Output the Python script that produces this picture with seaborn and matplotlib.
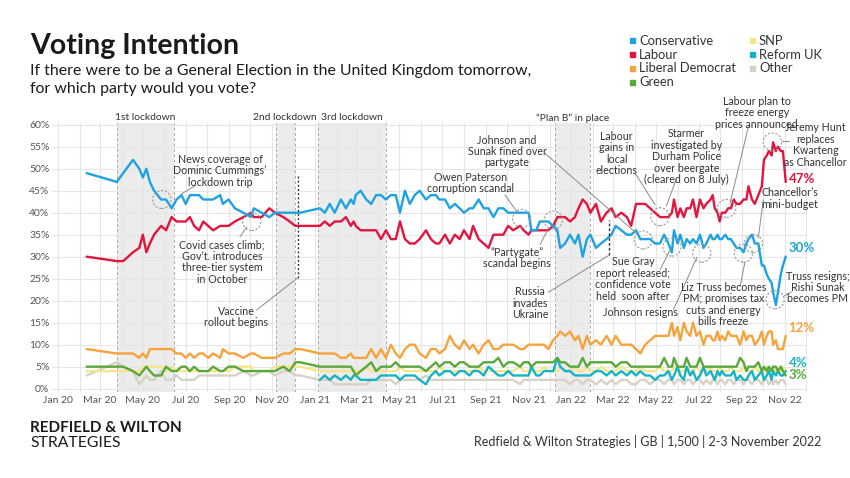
import numpy as np
import pandas as pd
import matplotlib
matplotlib.use("Agg")
import matplotlib.pyplot as plt
import matplotlib.dates as mdates
from matplotlib.patches import Ellipse, Rectangle
import seaborn as sns

# ---------------- data ----------------
BASE = pd.Timestamp("2020-01-01")
# poll fieldwork day, counted from 1 Jan 2020
poll_day = [41, 84, 93, 107, 116, 121, 126, 131, 137, 142, 147, 154, 162, 169, 176, 182, 188, 194,
            201, 207, 214, 221, 231, 235, 243, 252, 264, 275, 279, 290, 301, 309, 321, 330, 338, 345,
            373, 380, 387, 394, 403, 410, 417, 421, 424, 431, 439, 446, 453, 460, 467, 474, 481, 487,
            494, 501, 508, 515, 524, 531, 538, 543, 551, 558, 565, 572, 578, 586, 591, 599, 606, 613,
            620, 627, 634, 641, 648, 658, 663, 670, 674, 681, 686, 692, 698, 705, 711,
            715, 722, 729, 736, 741, 747, 753, 758, 766, 773, 781, 788, 794, 802, 810, 816, 823, 829,
            836, 843, 850, 857, 863, 869, 874, 877, 882, 886, 891, 895, 900, 904, 909, 914, 919, 923,
            929, 932, 935, 939, 942, 945, 950, 954, 958, 962, 966, 971, 976, 980, 983, 988, 992, 997,
            1002, 1005, 1009, 1012, 1016, 1018, 1022, 1025, 1029, 1032, 1036]

conservative = [49, 47, 49, 52, 50, 48, 50, 47, 45, 44, 43, 43, 41, 43, 44, 42, 44, 44,
                44, 43, 43, 43, 44, 42, 43, 41, 40, 39, 41, 40, 39, 40, 40, 40, 40, 40,
                41, 40, 42, 40, 43, 41, 43, 42, 44, 45, 43, 42, 44, 44, 43, 44, 44, 40,
                45, 42, 44, 45, 43, 44, 44, 43, 43, 41, 42, 41, 40, 41, 41, 43, 41, 41,
                39, 41, 41, 40, 40, 40, 40, 40, 36, 36, 38, 38, 38, 37, 36,
                32, 33, 35, 33, 35, 30, 34, 35, 32, 33, 34, 35, 37, 36, 35, 35, 36, 34,
                34, 34, 33, 33, 35, 33, 31, 36, 33, 35, 32, 34, 33, 34, 33, 35, 32, 33,
                35, 34, 34, 35, 34, 34, 35, 34, 34, 33, 32, 32, 31, 33, 34, 35, 33, 33,
                28, 28, 26, 25, 24, 22, 19, 22, 26, 28, 30]

labour = [30, 29, 29, 31, 32, 35, 31, 33, 35, 36, 37, 36, 39, 38, 38, 38, 39, 37,
          36, 38, 37, 36, 37, 37, 37, 38, 39, 40, 39, 39, 41, 40, 39, 38, 37, 37,
          37, 38, 37, 38, 38, 39, 37, 38, 37, 36, 36, 36, 36, 34, 36, 34, 34, 38,
          34, 33, 33, 34, 36, 34, 33, 33, 35, 33, 35, 34, 36, 34, 37, 34, 33, 32,
          35, 35, 35, 37, 36, 37, 36, 35, 36, 36, 36, 36, 36, 37, 39,
          39, 39, 38, 39, 41, 43, 42, 40, 42, 38, 40, 41, 39, 40, 39, 37, 42, 42,
          42, 41, 40, 39, 39, 39, 40, 43, 39, 41, 39, 41, 41, 43, 39, 43, 41, 42,
          43, 44, 41, 40, 38, 40, 40, 41, 41, 43, 42, 42, 43, 43, 46, 43, 42, 44,
          46, 52, 53, 54, 53, 56, 54, 55, 54, 54, 47]

lib_dem = [9, 8, 8, 8, 7, 8, 7, 9, 9, 9, 9, 9, 9, 8, 8, 7, 8, 7,
           8, 8, 7, 8, 7, 9, 8, 8, 7, 8, 8, 7, 7, 7, 8, 8, 9, 9,
           8, 8, 8, 8, 7, 7, 8, 7, 7, 7, 7, 9, 7, 9, 7, 10, 8, 7,
           9, 10, 10, 8, 7, 9, 9, 8, 9, 12, 10, 9, 11, 9, 10, 8, 10, 11,
           9, 9, 10, 10, 10, 9, 9, 10, 10, 10, 10, 10, 9, 11, 12,
           13, 12, 13, 11, 12, 9, 12, 10, 11, 10, 12, 10, 12, 10, 10, 10, 9, 8,
           10, 11, 12, 12, 12, 12, 15, 12, 14, 11, 15, 13, 12, 15, 12, 13, 10, 12,
           12, 11, 11, 13, 11, 12, 11, 13, 12, 12, 12, 10, 13, 11, 12, 12, 10, 11,
           13, 10, 12, 13, 13, 10, 11, 9, 9, 9, 12]

green = [5, 5, 5, 4, 3, 4, 5, 4, 3, 3, 3, 5, 4, 4, 5, 5, 4, 5,
         4, 4, 4, 5, 4, 4, 5, 5, 4, 4, 4, 4, 4, 4, 5, 4, 6, 6,
         5, 5, 5, 5, 5, 5, 5, 4, 3, 4, 5, 6, 4, 5, 5, 5, 6, 5,
         5, 5, 5, 5, 4, 5, 6, 5, 6, 6, 5, 6, 6, 5, 5, 5, 6, 6,
         6, 7, 5, 6, 6, 5, 6, 6, 5, 6, 6, 6, 6, 6, 7,
         6, 6, 5, 5, 5, 7, 5, 6, 6, 6, 6, 6, 5, 6, 6, 5, 5, 5,
         5, 5, 5, 5, 7, 5, 5, 7, 5, 5, 5, 7, 5, 5, 5, 7, 5, 5,
         5, 5, 5, 5, 5, 5, 5, 5, 5, 5, 5, 7, 6, 4, 5, 5, 5, 6,
         4, 5, 4, 5, 4, 5, 5, 4, 5, 4, 3]

snp = [4, 4, 4, 4, 4, 5, 5, 5, 5, 5, 5, 4, 5, 4, 4, 4, 4, 4,
       4, 4, 4, 4, 4, 4, 4, 5, 5, 5, 4, 4, 4, 5, 5, 5, 5, 5,
       4, 4, 4, 4, 4, 4, 4, 4, 4, 4, 5, 4, 4, 4, 4, 4, 4, 5,
       4, 4, 4, 4, 4, 4, 4, 5, 4, 4, 4, 4, 4, 4, 4, 5, 4, 4,
       4, 4, 4, 4, 4, 5, 4, 4, 4, 4, 4, 5, 4, 4, 4,
       5, 4, 4, 5, 4, 4, 5, 4, 4, 5, 4, 4, 4, 5, 4, 4, 4, 5,
       4, 4, 4, 5, 4, 4, 4, 5, 4, 4, 4, 5, 4, 4, 5, 4, 4, 4,
       5, 4, 4, 4, 5, 4, 4, 4, 5, 4, 4, 4, 5, 4, 4, 4, 5, 4,
       4, 4, 5, 4, 4, 5, 4, 4, 4, 5, 4]

reform = [np.nan] * 36 + [
          2, 3, 2, 3, 2, 3, 2, 3, 3, 2, 2, 2, 2, 3, 3, 3, 3, 2,
          3, 3, 3, 2, 1, 3, 4, 3, 4, 4, 3, 4, 4, 3, 4, 4, 3, 5,
          4, 3, 3, 4, 3, 3, 3, 3, 5, 3, 3, 4, 4, 4, 7,
          5, 4, 4, 3, 3, 3, 3, 3, 4, 4, 3, 4, 3, 4, 3, 4, 3, 4,
          3, 3, 2, 3, 3, 4, 2, 3, 5, 3, 2, 5, 3, 4, 2, 3, 5, 3,
          4, 3, 2, 4, 3, 4, 3, 3, 3, 4, 2, 3, 2, 2, 3, 4, 2, 3,
          4, 2, 3, 4, 2, 4, 3, 4, 3, 3, 4]

other = [3, 6, 5, 4, 1, 2, 3, 2, 2, 3, 4, 2, 2, 3, 2, 2, 2, 2,
         3, 3, 3, 3, 3, 3, 3, 3, 4, 3, 3, 4, 4, 3, 4, 4, 3, 3,
         2, 2, 2, 1, 1, 1, 1, 1, 1, 1, 1, 2, 2, 2, 2, 2, 1, 2,
         2, 2, 2, 2, 3, 2, 2, 2, 2, 2, 2, 2, 2, 2, 2, 2, 2, 2,
         2, 2, 2, 2, 2, 1, 2, 2, 2, 2, 2, 2, 2, 2, 2,
         2, 2, 1, 2, 2, 1, 2, 2, 1, 2, 1, 2, 1, 2, 2, 1, 1, 2,
         2, 1, 2, 2, 1, 2, 2, 1, 2, 2, 1, 2, 2, 1, 2, 2, 1, 2,
         1, 2, 2, 1, 2, 2, 1, 2, 2, 1, 2, 2, 1, 2, 2, 1, 2, 2,
         1, 2, 2, 1, 2, 1, 2, 1, 2, 2, 1]

parties = ["Conservative", "Labour", "Liberal Democrat", "Green", "SNP", "Reform UK", "Other"]
series = [conservative, labour, lib_dem, green, snp, reform, other]
colors = {"Conservative": "#1ea2e0", "Labour": "#e2153f", "Liberal Democrat": "#f6a33d",
          "Green": "#5aa83c", "SNP": "#f6e58c", "Reform UK": "#16b3c6", "Other": "#d8d2c6"}
draw_order = ["Other", "SNP", "Reform UK", "Green", "Liberal Democrat", "Labour", "Conservative"]

# lockdowns / restrictions (start day, end day, label)
periods = [(84, 166, "1st lockdown"), (310, 337, "2nd lockdown"),
           (371, 467, "3rd lockdown"), (708, 757, "\u201cPlan B\u201d in place")]

x_ticks_labels = ["Jan 20", "Mar 20", "May 20", "Jul 20", "Sep 20", "Nov 20", "Jan 21", "Mar 21",
                  "May 21", "Jul 21", "Sep 21", "Nov 21", "Jan 22", "Mar 22", "May 22", "Jul 22",
                  "Sep 22", "Nov 22"]

# ---------------- build ----------------
for s in series:
    assert len(s) == len(poll_day), len(s)

dates = BASE + pd.to_timedelta(poll_day, unit="D")
wide = pd.DataFrame({"date": dates})
for p, s in zip(parties, series):
    wide[p] = s
df = wide.melt(id_vars="date", var_name="party", value_name="pct").dropna()

sns.set_theme(style="white")
plt.rcParams["font.family"] = ["Lato", "DejaVu Sans"]

W, H = 850, 478
fig = plt.figure(figsize=(W / 100, H / 100), dpi=100)
fig.patch.set_facecolor("white")


def D(day):
    return mdates.date2num(BASE + pd.Timedelta(days=day))


x0, x1 = D(-8), D(1066)
y0, y1 = -0.8, 60.5
ax = fig.add_axes([52.2 / W, (H - 392.2) / H, (806.8 - 52.2) / W, (392.2 - 122.5) / H])

# shaded periods
for a, b, lab in periods:
    ax.axvspan(D(a), D(b), color="#ececec", lw=0, zorder=0)
    for e in (a, b):
        ax.axvline(D(e), color="#a8a8a8", lw=0.7, ls=(0, (3, 2.5)), zorder=0.5)
    ax.text((D(a) + D(b)) / 2, 1.017, lab, transform=ax.get_xaxis_transform(),
            ha="center", va="center", fontsize=7.4, color="#333333")

sns.lineplot(data=df, x="date", y="pct", hue="party", hue_order=draw_order, palette=colors,
             estimator=None, sort=False, linewidth=1.7, legend=False, ax=ax, zorder=3)

ax.set_xlim(x0, x1)
ax.set_ylim(y0, y1)
ax.set_yticks(range(0, 61, 5))
ax.set_yticklabels([f"{v}%" for v in range(0, 61, 5)])
ax.xaxis.set_major_locator(mdates.MonthLocator(bymonth=[1, 3, 5, 7, 9, 11]))
ax.xaxis.set_minor_locator(mdates.MonthLocator())
ax.set_xticklabels(x_ticks_labels)
ax.grid(True, which="both", axis="x", color="#e6e6e6", lw=0.8, zorder=0.2)
ax.grid(True, which="major", axis="y", color="#e6e6e6", lw=0.8, zorder=0.2)
ax.tick_params(axis="both", which="both", length=0, labelsize=7.5, labelcolor="#555555")
ax.tick_params(axis="x", pad=3)
ax.tick_params(axis="y", pad=2)
for sp in ax.spines.values():
    sp.set_visible(False)
ax.set_xlabel("")
ax.set_ylabel("")
ax.set_facecolor("none")

# event markers
ax.plot([D(342), D(342)], [25.2, 48.6], color="#333333", lw=1, ls=(0, (1.5, 1.5)), zorder=4)
ax.plot([D(785), D(785)], [30.4, 38.3], color="#333333", lw=1, ls=(0, (2, 1.5)), zorder=4)

notes = [
    ("News coverage of\nDominic Cummings\u2019\nlockdown trip", 231, 49.5),
    ("Covid cases climb;\nGov\u2019t. introduces\nthree-tier system\nin October", 233.7, 28.8),
    ("Vaccine\nrollout begins", 253.6, 16.3),
    ("Owen Paterson\ncorruption scandal", 588, 46.8),
    ("Johnson and\nSunak fined over\npartygate", 639.3, 53.9),
    ("Labour\ngains in\nlocal\nelections", 795.5, 53.5),
    ("Starmer\ninvestigated by\nDurham Police\nover beergate\n(cleared on 8 July)", 895, 52.7),
    ("Labour plan to\nfreeze energy\nprices announced", 994.7, 62.7),
    ("Jeremy Hunt\nreplaces\nKwarteng\nas Chancellor", 1078.5, 55.4),
    ("Chancellor\u2019s\nmini-budget", 1042, 43.2),
    ("Sue Gray\nreport released;\nconfidence vote\nheld  soon after", 819, 24.9),
    ("Johnson resigns", 828.6, 17.4),
    ("Liz Truss becomes\nPM; promises tax\ncuts and energy\nbills freeze", 947.2, 19.1),
    ("Truss resigns;\nRishi Sunak\nbecomes PM", 1082, 23.0),
    ("Russia\ninvades\nUkraine", 672, 19.4),
    ("\u201cPartygate\u201d\nscandal begins", 654, 29.7),
]
for txt, d, v in notes:
    ax.text(D(d), v, txt, ha="center", va="center", fontsize=7.7, color="#333333",
            linespacing=1.05, zorder=6, clip_on=False)

circles = [(148, 43), (276, 38), (660.3, 38.7), (705.2, 38.3), (833.3, 33.8), (857, 39.1),
           (952, 41), (1017, 56.1), (990, 33), (874, 32.2), (916.5, 30.8), (975.7, 30.8),
           (1020.8, 20.2)]
for d, v in circles:
    ax.add_patch(Ellipse((D(d), v), 26, 4.1, fill=False, ec="#9a9a9a", lw=0.8,
                         ls=(0, (2, 1.5)), zorder=5))

leaders = [((176.4, 44.3), (195.9, 46.2)), ((268.9, 36.8), (259.3, 34.5)),
           ((283.1, 17.9), (342.3, 25.3)), ((636.5, 44.0), (655, 39.9)),
           ((693.4, 53.5), (821.5, 35.6)), ((821.5, 49.0), (850, 41.8)),
           ((880, 47.5), (866, 41.5)), ((982.8, 59.5), (956.7, 42.1)),
           ((1030, 56.3), (1040, 56.3)), ((1004, 42.9), (997, 34.3)),
           ((857, 27.0), (871.3, 31.5)), ((876, 17.9), (909.7, 29.9)),
           ((971, 23.2), (978, 28.8)), ((1033, 21.0), (1044, 22.0)),
           ((698, 21.9), (785, 30.4)), ((686.3, 32.7), (697.7, 36.3))]
for (da, va), (db, vb) in leaders:
    ax.plot([D(da), D(db)], [va, vb], color="#8a8a8a", lw=0.7, zorder=5, clip_on=False)

# end labels
end_offsets = {"Labour": 2, "Conservative": 6, "Liberal Democrat": 5.5, "Reform UK": 6, "Green": 0}
for p, off in end_offsets.items():
    val = wide[p].iloc[-1]
    ax.annotate(f"{int(val)}%", xy=(D(poll_day[-1]), val), xytext=(2, off),
                textcoords="offset points", ha="left", va="center", fontsize=9.5,
                fontweight="bold", color=colors[p], zorder=7, annotation_clip=False)


# ---------------- header / legend / footer ----------------
def F(px, py):
    return px / W, 1 - py / H


fig.text(*F(30, 54), "Voting Intention", fontsize=20.5, fontweight="bold", color="#1a1a1a", va="baseline")
fig.text(*F(30, 75), "If there were to be a General Election in the United Kingdom tomorrow,",
         fontsize=11.4, color="#1a1a1a", va="baseline")
fig.text(*F(30, 93), "for which party would you vote?", fontsize=11.4, color="#1a1a1a", va="baseline")

col_x = [632, 752]
rows_y = [40.7, 54.7, 68.3, 82.3]
for i, p in enumerate(parties):
    c, r = (0, i) if i < 4 else (1, i - 4)
    cx, cy = col_x[c], rows_y[r]
    fig.patches.append(Rectangle(F(cx - 2.5, cy + 2.5), 5 / W, 5 / H, transform=fig.transFigure,
                                 color=colors[p], figure=fig))
    fig.text(*F(cx + 7, cy), p, fontsize=9.3, color="#333333", va="center", ha="left")

fig.text(*F(30, 432), "REDFIELD & WILTON", fontsize=11, fontweight="bold", color="#1a1a1a", va="baseline")
fig.text(*F(30, 447), "STRATEGIES", fontsize=11.3, color="#1a1a1a", va="baseline")
fig.text(*F(821, 446), "Redfield & Wilton Strategies | GB | 1,500 | 2-3 November 2022",
         fontsize=9, color="#333333", ha="right", va="baseline")

fig.savefig("out.png", dpi=100)
